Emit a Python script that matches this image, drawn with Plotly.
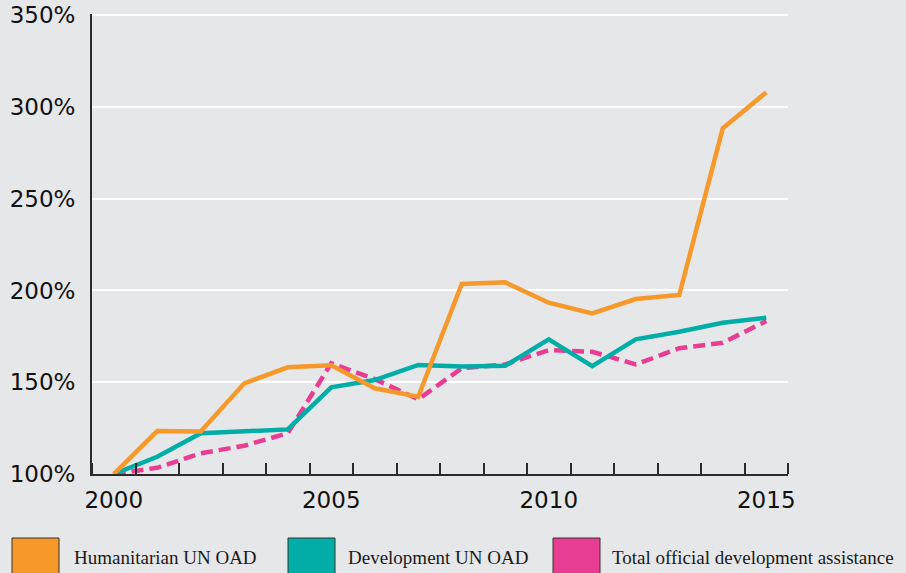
import plotly.graph_objects as go

years = list(range(2000, 2016))
humanitarian = [100, 123.4, 123.2, 149.4, 158.1, 159.2, 146.7, 142.1, 203.5, 204.4, 193.3, 187.5, 195.3, 197.5, 288.3, 307.9]
development = [100, 109.4, 122.2, 123.0, 124.3, 147.2, 151.2, 159.4, 158.5, 159.0, 173.4, 158.8, 173.4, 177.5, 182.4, 185.1]
total_oda = [100, 103.4, 111.3, 115.4, 122.2, 160.3, 151.7, 140.7, 157.6, 159.7, 167.5, 166.6, 159.7, 168.5, 171.5, 183.3]

y_ticks = [100, 150, 200, 250, 300, 350]
y_labels = ["100%", "150%", "200%", "250%", "300%", "350%"]

series_names = ["Humanitarian UN OAD", "Development UN OAD", "Total official development assistance"]
colors = ["#F7982B", "#00ADA7", "#E83D93"]

BG = "#E6E7E9"
AXIS = "#2b2b2b"

fig = go.Figure()
fig.add_trace(go.Scatter(x=years, y=total_oda, mode="lines", name=series_names[2],
                         line=dict(color=colors[2], width=4.5, dash="12px,6px")))
fig.add_trace(go.Scatter(x=years, y=development, mode="lines", name=series_names[1],
                         line=dict(color=colors[1], width=4.5)))
fig.add_trace(go.Scatter(x=years, y=humanitarian, mode="lines", name=series_names[0],
                         line=dict(color=colors[0], width=4.5)))

W, H = 906, 573
# target plot-area edges in screen pixels
SX0, SX1, SY0, SY1 = 92, 788, 14, 474
L = SX0
R = W - SX1
T = SY0
B = H - SY1
pw, ph = W - L - R, H - T - B

def px_x(p):
    return (p - SX0) / pw

def px_y(p):
    return (SY1 - p) / ph

shapes = []
annotations = []
box_left = [12, 288, 553]
text_left = [72, 346, 610]
for i in range(3):
    shapes.append(dict(type="rect", xref="paper", yref="paper",
                       x0=px_x(box_left[i]), x1=px_x(box_left[i] + 47),
                       y0=px_y(538), y1=px_y(590),
                       fillcolor=colors[i], line=dict(color="#333333", width=1)))
    annotations.append(dict(xref="paper", yref="paper", x=px_x(text_left[i]), y=px_y(557),
                            xanchor="left", yanchor="middle", showarrow=False,
                            text=series_names[i],
                            font=dict(family="Liberation Serif", size=19, color="#1a1a1a")))

fig.update_layout(
    width=W, height=H,
    margin=dict(l=L, r=R, t=T, b=B, pad=0, autoexpand=False),
    paper_bgcolor=BG, plot_bgcolor=BG,
    showlegend=False,
    hovermode=False,
    shapes=shapes,
    annotations=annotations,
    xaxis=dict(range=[1999.5, 2015.5], tickmode="linear", tick0=2000, dtick=5,
               tickformat="d", ticks="", showgrid=False, zeroline=False,
               showline=True, linecolor=AXIS, linewidth=2, automargin=False,
               ticklabelstandoff=4, ticklabeloverflow="allow",
               tickfont=dict(family="DejaVu Sans", size=23, color="#111111"),
               minor=dict(ticks="inside", tick0=2000.5, dtick=1, ticklen=11,
                          tickwidth=2, tickcolor=AXIS, showgrid=False)),
    yaxis=dict(range=[100, 350.6], tickmode="array", tickvals=y_ticks, ticktext=y_labels,
               ticks="", showgrid=True, gridcolor="#FFFFFF", gridwidth=2,
               zeroline=False, showline=True, linecolor=AXIS, linewidth=2,
               automargin=False, ticklabelstandoff=10, ticklabeloverflow="allow",
               tickfont=dict(family="DejaVu Sans", size=23, color="#111111")),
)

fig.write_html(
    "out.html",
    config={"displayModeBar": False},
    post_script="document.body.style.margin='0px';"
                "document.body.style.background='#E6E7E9';"
                "document.body.style.overflow='hidden';",
)
